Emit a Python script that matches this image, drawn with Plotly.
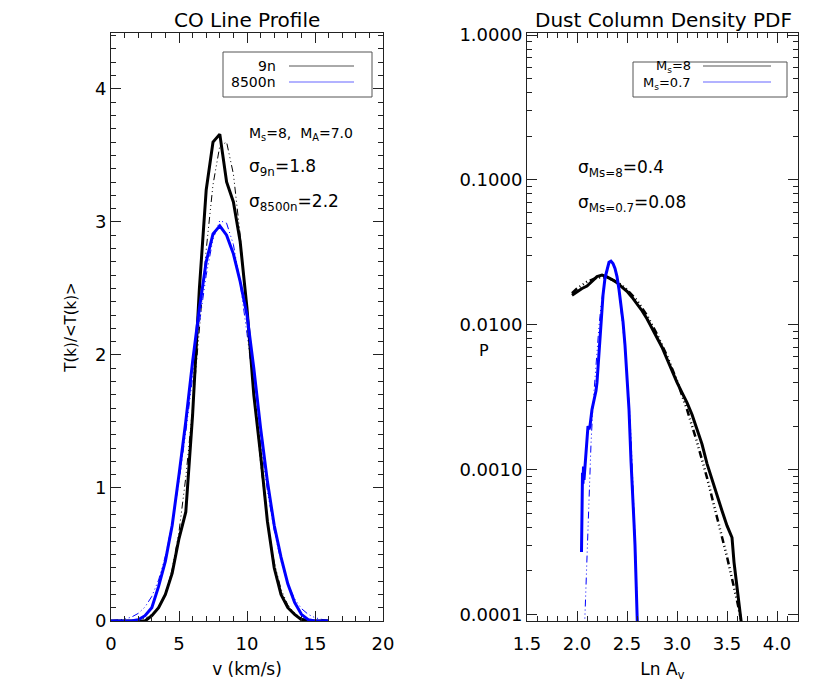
import plotly.graph_objects as go

# ---- left panel: CO line profiles, T(k)/<T(k)> vs v (km/s)
V_KMS = [0.0, 0.5, 1.0, 1.5, 2.0, 2.5, 3.0, 3.5, 4.0, 4.5, 5.0, 5.5, 6.0, 6.5, 7.0, 7.5,
         8.0, 8.5, 9.0, 9.5, 10.0, 10.5, 11.0, 11.5, 12.0, 12.5, 13.0, 13.5, 14.0, 14.5,
         15.0, 15.5, 16.0]
T_9N = [0, 0, 0, 0, 0, 0, 0.04, 0.10, 0.20, 0.36, 0.62, 0.82, 1.55, 2.50, 3.24, 3.60,
        3.66, 3.30, 3.15, 2.85, 2.35, 1.70, 1.25, 0.75, 0.40, 0.20, 0.10, 0.05, 0.01, 0,
        0, 0, 0]
T_9N_FIT = [0, 0, 0, 0, 0.01, 0.02, 0.05, 0.10, 0.21, 0.39, 0.67, 1.08, 1.60, 2.20, 2.79,
            3.28, 3.57, 3.60, 3.36, 2.90, 2.32, 1.72, 1.18, 0.75, 0.44, 0.24, 0.12, 0.06,
            0.02, 0.01, 0, 0, 0]
T_8500N = [0, 0, 0, 0, 0.01, 0.04, 0.10, 0.26, 0.45, 0.72, 1.10, 1.50, 1.95, 2.35, 2.70,
           2.91, 2.97, 2.90, 2.76, 2.55, 2.30, 1.90, 1.45, 1.05, 0.72, 0.48, 0.28, 0.14,
           0.05, 0.01, 0, 0, 0]
T_8500N_FIT = [0.003, 0.007, 0.014, 0.029, 0.057, 0.105, 0.185, 0.308, 0.488, 0.735, 1.048,
               1.422, 1.832, 2.24, 2.60, 2.87, 3.01, 2.99, 2.83, 2.54, 2.16, 1.75, 1.34,
               0.98, 0.68, 0.45, 0.28, 0.166, 0.094, 0.05, 0.025, 0.012, 0.006]

# ---- right panel: dust column density PDF, P vs Ln A_v
LNAV_MS8 = [1.95, 2.00, 2.05, 2.10, 2.15, 2.20, 2.25, 2.30, 2.35, 2.40, 2.45, 2.50, 2.55,
            2.60, 2.65, 2.70, 2.75, 2.80, 2.85, 2.90, 2.95, 3.00, 3.05, 3.10, 3.15, 3.20,
            3.25, 3.30, 3.35, 3.40, 3.45, 3.50, 3.55, 3.57, 3.60, 3.63, 3.65]
P_MS8 = [0.0160, 0.0170, 0.0178, 0.0185, 0.0200, 0.0215, 0.0220, 0.0214, 0.0205, 0.0195,
         0.0182, 0.0170, 0.0155, 0.0140, 0.0125, 0.0110, 0.0095, 0.0083, 0.0070, 0.0058,
         0.0048, 0.0040, 0.0034, 0.0029, 0.0024, 0.0019, 0.0015, 0.0011, 0.00085, 0.00066,
         0.00052, 0.00041, 0.00034, 0.00023, 0.00016, 0.000105, 0.00008]
LNAV_MS8_FIT = [1.95, 2.00, 2.10, 2.20, 2.30, 2.40, 2.50, 2.60, 2.70, 2.80, 2.90, 3.00,
                3.10, 3.20, 3.30, 3.40, 3.50, 3.60, 3.65]
P_MS8_FIT = [0.0165, 0.0178, 0.0198, 0.0212, 0.0212, 0.0198, 0.0175, 0.0147, 0.0116,
             0.0086, 0.0061, 0.0041, 0.0026, 0.00155, 0.00088, 0.00048, 0.00025, 0.000125,
             0.000085]
LNAV_MS07 = [2.045, 2.050, 2.055, 2.060, 2.065, 2.070, 2.080, 2.100, 2.110, 2.120, 2.130,
             2.150, 2.170, 2.190, 2.200, 2.220, 2.240, 2.260, 2.280, 2.300, 2.320, 2.340,
             2.360, 2.380, 2.400, 2.420, 2.440, 2.460, 2.480, 2.500, 2.520, 2.540, 2.550,
             2.560, 2.570, 2.580, 2.590, 2.600, 2.605]
P_MS07 = [0.00027, 0.00060, 0.00095, 0.00080, 0.00105, 0.00085, 0.00110, 0.0017, 0.0020,
          0.0019, 0.0020, 0.0026, 0.0030, 0.0035, 0.0040, 0.0065, 0.0105, 0.016, 0.021,
          0.0245, 0.027, 0.0275, 0.0265, 0.0245, 0.0215, 0.0175, 0.0140, 0.0105, 0.0072,
          0.0045, 0.0026, 0.00115, 0.00075, 0.00055, 0.00043, 0.00030, 0.00019, 0.00012,
          0.00008]
LNAV_MS07_FIT = [2.075, 2.08, 2.10, 2.12, 2.14, 2.16, 2.18, 2.20, 2.22, 2.24, 2.26, 2.28,
                 2.30, 2.32, 2.34, 2.36, 2.38, 2.40, 2.42, 2.44, 2.46, 2.48, 2.50, 2.52,
                 2.54, 2.56, 2.58, 2.60, 2.61]
P_MS07_FIT = [0.00008, 0.0001, 0.00028, 0.0007, 0.0015, 0.0028, 0.0045, 0.0068, 0.0098,
              0.0135, 0.0175, 0.0215, 0.0245, 0.0265, 0.027, 0.0262, 0.024, 0.0208, 0.017,
              0.013, 0.0093, 0.0068, 0.0048, 0.0030, 0.0017, 0.0008, 0.00035, 0.00013,
              0.00008]

BLUE = "#0000ff"
INK = "#222222"
FONT = "DejaVu Sans"
DASH3DOT = "7px,3px,1px,3px,1px,3px,1px,3px"
PAGE_OFFSET = 8  # the html body margin shifts the figure by this many pixels

fig = go.Figure()

# left panel
fig.add_trace(go.Scatter(x=V_KMS, y=T_9N_FIT, mode="lines", xaxis="x", yaxis="y",
                         line=dict(color="black", width=1, dash=DASH3DOT)))
fig.add_trace(go.Scatter(x=V_KMS, y=T_8500N_FIT, mode="lines", xaxis="x", yaxis="y",
                         line=dict(color=BLUE, width=1, dash=DASH3DOT)))
fig.add_trace(go.Scatter(x=V_KMS, y=T_9N, mode="lines", xaxis="x", yaxis="y",
                         line=dict(color="black", width=3)))
fig.add_trace(go.Scatter(x=V_KMS, y=T_8500N, mode="lines", xaxis="x", yaxis="y",
                         line=dict(color=BLUE, width=3)))

# right panel
fig.add_trace(go.Scatter(x=LNAV_MS8_FIT, y=P_MS8_FIT, mode="lines", xaxis="x2", yaxis="y2",
                         line=dict(color="black", width=2.5, dash=DASH3DOT)))
fig.add_trace(go.Scatter(x=LNAV_MS07_FIT, y=P_MS07_FIT, mode="lines", xaxis="x2", yaxis="y2",
                         line=dict(color=BLUE, width=1, dash=DASH3DOT)))
fig.add_trace(go.Scatter(x=LNAV_MS8, y=P_MS8, mode="lines", xaxis="x2", yaxis="y2",
                         line=dict(color="black", width=3)))
fig.add_trace(go.Scatter(x=LNAV_MS07, y=P_MS07, mode="lines", xaxis="x2", yaxis="y2",
                         line=dict(color=BLUE, width=3)))


def px(pix):
    # screen column -> paper x
    return (pix - PAGE_OFFSET) / 830


def py(pix):
    # screen row -> paper y of the plot area (rows 33 to 621 on screen)
    return (621 - pix) / 588


axis_style = dict(showline=True, linecolor=INK, linewidth=1, mirror="allticks",
                  ticks="inside", ticklen=10, tickcolor=INK, showgrid=False,
                  zeroline=False, automargin=False,
                  tickfont=dict(family=FONT, size=18, color="black"))
minor_style = dict(ticks="inside", ticklen=5, tickcolor=INK, showgrid=False)

log_minor = [m * 10 ** e for e in range(-4, 0) for m in range(2, 10)]

fig.update_layout(
    width=830, height=693,
    paper_bgcolor="white", plot_bgcolor="white",
    margin=dict(l=0, r=0, t=33 - PAGE_OFFSET, b=72 + PAGE_OFFSET, autoexpand=False),
    showlegend=False,
    font=dict(family=FONT, color="black"),
    xaxis=dict(axis_style, domain=[px(111), px(383)], range=[0, 20], dtick=5,
               ticklabelstandoff=6, minor=dict(minor_style, dtick=1),
               title=dict(text="v (km/s)", font=dict(size=17), standoff=10)),
    yaxis=dict(axis_style, range=[0, 4.42], dtick=1,
               minor=dict(minor_style, dtick=0.1),
               title=dict(text="T(k)/&lt;T(k)&gt;", font=dict(size=15), standoff=14)),
    xaxis2=dict(axis_style, anchor="y2", domain=[px(527), px(798)], range=[1.5, 4.21],
                dtick=0.5, tickformat=".1f", ticklabelstandoff=6,
                minor=dict(minor_style, dtick=0.1),
                title=dict(text="Ln A<sub>v</sub>", font=dict(size=17), standoff=10)),
    yaxis2=dict(axis_style, anchor="x2", type="log", range=[-4.045, 0.014],
                tickvals=[1e-4, 1e-3, 1e-2, 1e-1, 1],
                ticktext=["0.0001", "0.0010", "0.0100", "0.1000", "1.0000"],
                minor=dict(minor_style, tickvals=log_minor)),
)

annos = [
    dict(text="CO Line Profile", x=247, y=20.5, size=20),
    dict(text="Dust Column Density PDF", x=663, y=20.5, size=20),
    dict(text="P", x=484, y=350, size=16),
    dict(text="M<sub>s</sub>=8,  M<sub>A</sub>=7.0", x=247, y=134, xanchor="left", size=14),
    dict(text="σ<sub>9n</sub>=1.8", x=247, y=167, xanchor="left", size=17),
    dict(text="σ<sub>8500n</sub>=2.2", x=247, y=202, xanchor="left", size=17),
    dict(text="σ<sub>Ms=8</sub>=0.4", x=576, y=168, xanchor="left", size=17),
    dict(text="σ<sub>Ms=0.7</sub>=0.08", x=576, y=203, xanchor="left", size=17),
    dict(text="9n", x=278, y=66, xanchor="right", size=14),
    dict(text="8500n", x=278, y=82, xanchor="right", size=14),
    dict(text="M<sub>s</sub>=8", x=693, y=66, xanchor="right", size=13),
    dict(text="M<sub>s</sub>=0.7", x=693, y=83, xanchor="right", size=13),
]
for a in annos:
    fig.add_annotation(xref="paper", yref="paper", showarrow=False, text=a["text"],
                       x=px(a["x"]), y=py(a["y"]), xanchor=a.get("xanchor", "center"),
                       yanchor="middle",
                       font=dict(family=FONT, size=a["size"], color="black"))

# legend boxes and sample lines (decoration)
for x0, x1, y0, y1 in [(223, 372, 52, 97), (633, 787, 62, 97)]:
    fig.add_shape(type="rect", xref="paper", yref="paper", x0=px(x0), x1=px(x1),
                  y0=py(y1), y1=py(y0), line=dict(color="#555555", width=1))
for x0, x1 in [(289, 354), (703, 771)]:
    fig.add_shape(type="line", xref="paper", yref="paper", x0=px(x0), x1=px(x1),
                  y0=py(66), y1=py(66), line=dict(color="#555555", width=1))
    fig.add_shape(type="line", xref="paper", yref="paper", x0=px(x0), x1=px(x1),
                  y0=py(82), y1=py(82), line=dict(color="#9999ff", width=1.5))

fig.write_html("out.html")
